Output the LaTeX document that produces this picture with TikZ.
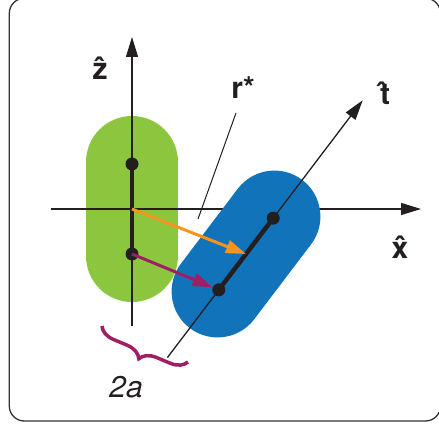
\documentclass[tikz,border=0pt]{standalone}
\usepackage{fontspec}
\setmainfont{TeX Gyre Heros}
\usetikzlibrary{calc,arrows.meta,decorations.pathreplacing}

\definecolor{capgreen}{HTML}{8CC63F}
\definecolor{capblue}{HTML}{1174BB}
\definecolor{vecorange}{HTML}{F7941D}
\definecolor{vecpurple}{HTML}{9E1F63}
\definecolor{inkblack}{HTML}{231F20}

\tikzset{
	axis/.style={line width=1.3pt, inkblack, -{Triangle[length=20pt,width=12pt]}},
	capsule/.style={line width=92pt, line cap=round},
	rod/.style={line width=4.5pt, inkblack},
	dot/.style={circle, fill=inkblack, inner sep=0pt, minimum size=13pt},
	vec/.style={line width=3pt, -{Triangle[length=20pt,width=13pt]}},
	lbl/.style={font=\fontsize{30}{34}\selectfont\bfseries, text=inkblack, inner sep=0pt},
	ilbl/.style={font=\fontsize{30}{34}\selectfont\itshape, text=inkblack, inner sep=0pt},
}

\begin{document}
\begin{tikzpicture}[x=1pt, y=1pt]
	\useasboundingbox (0,0) rectangle (439,-425);
	\clip (0,0) rectangle (439,-425);
	\draw[line width=1.3pt, draw=black!80, rounded corners=15pt] (9.3,1.7) rectangle (440.5,-421);
	% centres and rod ends
	\coordinate (O) at (132,-209);
	\coordinate (C) at (246,-254);
	\coordinate (g1) at ($(O)+(0,45)$);
	\coordinate (g2) at ($(O)+(0,-45)$);
	\coordinate (b1) at ($(C)+(52.8:45)$);
	\coordinate (b2) at ($(C)+(232.8:45)$);
	% axis ends
	\coordinate (xs) at (51,-209);
	\coordinate (xe) at (421,-209);
	\coordinate (zs) at (132,-326);
	\coordinate (ze) at (132,-37);
	\coordinate (ts) at ($(C)+(232.8:130)$);
	\coordinate (te) at ($(C)+(52.8:193)$);
	% the two capsules
	\draw[capsule, capgreen] ($(O)+(0,47)$) -- ($(O)+(0,-47)$);
	\draw[axis] (xs) -- (xe);
	\draw[axis] (zs) -- (ze);
	\draw[capsule, capblue] ($(C)+(52.8:47)$) -- ($(C)+(232.8:47)$);
	\draw[axis] (ts) -- (te);
	\draw[rod] (g1) -- (g2);
	\draw[rod] (b1) -- (b2);
	\node[dot] (gd1) at (g1) {};
	\node[dot] (gd2) at (g2) {};
	\node[dot] (bd1) at (b1) {};
	\node[dot] (bd2) at (b2) {};
	% separation vectors
	\draw[vec, vecorange] (O) -- (C);
	\draw[vec, vecpurple] (gd2.center) -- (bd2);
	% leader for r*
	\coordinate (l1) at (236,-113);
	\coordinate (l2) at (198,-219);
	\draw[line width=1pt, inkblack] (l1) -- (l2);
	% brace
	\coordinate (br1) at (102,-326);
	\coordinate (br2) at (188,-362);
	\draw[vecpurple, line width=3.5pt, decorate,
		decoration={brace, mirror, amplitude=16pt, aspect=0.5}] (br1) -- (br2);
	% labels
	\node[lbl] (zlab) at (100,-68) {\^{z}};
	\node[lbl] (rlab) at (243,-88) {r*};
	\node[lbl] (tlab) at (385,-93) {\^{t}};
	\node[lbl] (xlab) at (400,-247) {\^{x}};
	\node[ilbl] (alab) at (126,-387) {2a};
\end{tikzpicture}
\end{document}
